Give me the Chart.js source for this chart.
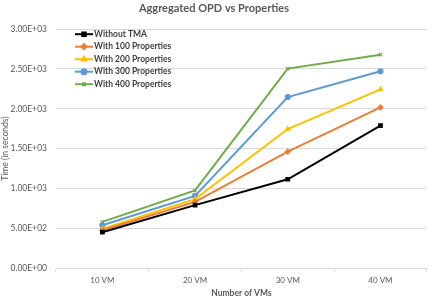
<!DOCTYPE html>
<html>
<head>
<meta charset="utf-8">
<script src="https://cdn.jsdelivr.net/npm/chart.js@4"></script>
<style>
  html, body { margin: 0; padding: 0; background: #fff; }
  #wrap { width: 432px; height: 298px; }
</style>
</head>
<body>
<div id="wrap"><canvas id="opdChart" width="432" height="298"></canvas></div>
<script>
const categories = ["10 VM", "20 VM", "30 VM", "40 VM"];
const seriesNames = ["Without TMA", "With 100 Properties", "With 200 Properties", "With 300 Properties", "With 400 Properties"];
const withoutTma = [450, 790, 1115, 1790];
const with100 = [475, 830, 1462, 2017];
const with200 = [492, 865, 1746, 2245];
const with300 = [537, 905, 2148, 2472];
const with400 = [579, 975, 2505, 2680];
const yTicks = [0, 500, 1000, 1500, 2000, 2500, 3000];

const colors = ["#000000", "#ED7D31", "#FFC000", "#5B9BD5", "#70AD47"];
const markers = ["rect", "rectRot", "triangle", "circle", "crossRot"];
const values = [withoutTma, with100, with200, with300, with400];

// Excel style scientific label, e.g. 2.50E+03
function sci(v) {
  const s = Number(v).toExponential(2).toUpperCase();
  const [m, e] = s.split("E");
  const sign = e[0] === "-" ? "-" : "+";
  const digits = e.replace(/[+-]/, "").padStart(2, "0");
  return m + "E" + sign + digits;
}

// legend drawn inside the plot area, top-left
const innerLegend = {
  id: "innerLegend",
  afterDraw(chart) {
    const ctx = chart.ctx;
    const area = chart.chartArea;
    const x0 = area.left + 19;
    let y = area.top + 5;
    ctx.save();
    ctx.font = "bold 8.5px Lato";
    ctx.textBaseline = "middle";
    seriesNames.forEach((name, i) => {
      ctx.strokeStyle = colors[i];
      ctx.lineWidth = 2;
      ctx.beginPath();
      ctx.moveTo(x0, y);
      ctx.lineTo(x0 + 18, y);
      ctx.stroke();
      ctx.fillStyle = colors[i];
      Chart.helpers.drawPoint(ctx, {
        pointStyle: markers[i], radius: 2.5, rotation: 0, borderWidth: 1.2
      }, x0 + 9, y);
      ctx.fillStyle = "#404040";
      ctx.fillText(name, x0 + 19, y);
      y += 12.5;
    });
    ctx.restore();
  }
};

const ctx = document.getElementById("opdChart").getContext("2d");
new Chart(ctx, {
  type: "line",
  data: {
    labels: categories,
    datasets: seriesNames.map((name, i) => ({
      label: name,
      data: values[i],
      borderColor: colors[i],
      backgroundColor: colors[i],
      borderWidth: 2,
      pointStyle: markers[i],
      pointRadius: 2.5,
      pointBorderWidth: 1.2,
      tension: 0,
    })),
  },
  options: {
    responsive: false,
    animation: false,
    layout: { padding: { top: 0, right: 4, bottom: 0, left: 0 } },
    plugins: {
      legend: { display: false },
      tooltip: { enabled: false },
      title: {
        display: true,
        text: "Aggregated OPD vs Properties",
        color: "#595959",
        font: { family: "Lato", size: 11, weight: "bold" },
        padding: { top: 2, bottom: 14 },
      },
    },
    scales: {
      x: {
        offset: true,
        afterFit(axis) { axis.height = 30; },
        grid: { display: true, drawOnChartArea: false, offset: true, tickLength: 4, color: "#d9d9d9" },
        border: { color: "#d9d9d9" },
        ticks: { color: "#595959", font: { family: "Lato", size: 8 }, padding: 4 },
        title: {
          display: true,
          text: "Number of VMs",
          color: "#595959",
          font: { family: "Lato", size: 8.5, weight: "bold" },
          padding: { top: 2, bottom: 0 },
        },
      },
      y: {
        min: 0,
        max: 3000,
        afterFit(axis) { axis.width = 56; },
        afterBuildTicks(axis) {
          axis.ticks = yTicks.map((v) => ({ value: v }));
        },
        grid: { color: "#d9d9d9", drawTicks: false },
        border: { display: false },
        ticks: {
          color: "#595959",
          font: { family: "Lato", size: 8.5 },
          padding: 9,
          callback: (v) => sci(v),
        },
        title: {
          display: true,
          text: "Time (in seconds)",
          color: "#595959",
          font: { family: "Lato", size: 8.5 },
          padding: { top: 0, bottom: 2 },
        },
      },
    },
  },
  plugins: [innerLegend],
});
</script>
</body>
</html>
